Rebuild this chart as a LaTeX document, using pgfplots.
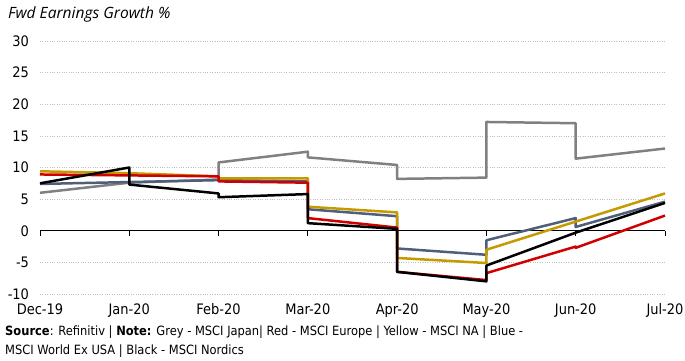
\documentclass[border=0pt]{standalone}
\usepackage{pgfplots}
\pgfplotsset{compat=1.18}
\usepackage{fontspec}
\setmainfont{DejaVu Sans Condensed}
\newfontfamily\titlefont{Open Sans}

\definecolor{cGrey}{HTML}{808080}
\definecolor{cRed}{HTML}{D00000}
\definecolor{cYellow}{HTML}{C49A00}
\definecolor{cBlue}{HTML}{4F5E7B}
\definecolor{cGrid}{HTML}{BFBFBF}

\begin{document}
\fontsize{14.5}{17}\selectfont
\begin{tikzpicture}[x=1bp,y=1bp]
\path[use as bounding box] (-40bp,-67bp) rectangle (645bp,294bp);
\begin{axis}[
  at={(0,0)}, anchor=south west,
  scale only axis,
  width=625bp, height=253bp,
  xmin=0, xmax=7, ymin=-10, ymax=30,
  axis line style={draw=none},
  xtick={0,...,7},
  xticklabels={Dec-19,Jan-20,Feb-20,Mar-20,Apr-20,May-20,Jun-20,Jul-20},
  ytick={-10,-5,0,5,10,15,20,25,30},
  extra y ticks={-10,-5,5,10,15,20,25,30},
  extra y tick labels={},
  extra y tick style={grid=major, major grid style={cGrid, dotted, line width=0.7pt}},
  major tick length=0pt,
  tick label style={font=\fontsize{14.5}{17}\selectfont},
  /pgf/number format/assume math mode=true,
  xticklabel style={yshift=-5bp},
  yticklabel style={xshift=-6bp},
  every axis plot/.append style={line width=2.5pt, line join=round},
  clip=false,
]
% zero line and month ticks
\draw[black, line width=0.8pt] (axis cs:0,0) -- (axis cs:7,0);
\pgfplotsinvokeforeach{0,...,7}{
  \draw[black, line width=0.8pt] (axis cs:#1,0) -- ([yshift=-5bp]axis cs:#1,0);
}

% MSCI Japan
\addplot[cGrey] coordinates {
  (0,6.0) (1,7.6) (2,8.1) (2,10.8) (3,12.5) (3,11.6) (4,10.4) (4,8.2)
  (5,8.4) (5,17.2) (6,17.0) (6,11.4) (7,13.0)
};
% MSCI World Ex USA
\addplot[cBlue] coordinates {
  (0,7.4) (1,7.7) (2,8.0) (3,7.8) (3,3.4) (4,2.3) (4,-2.8) (5,-3.8)
  (5,-1.5) (6,2.0) (6,0.6) (7,4.6)
};
% MSCI NA
\addplot[cYellow] coordinates {
  (0,9.4) (1,9.1) (2,8.6) (2,8.3) (3,8.3) (3,3.8) (4,2.9) (4,-4.3)
  (5,-5.1) (5,-3.0) (7,5.9)
};
% MSCI Europe
\addplot[cRed] coordinates {
  (0,8.9) (2,8.6) (2,7.8) (3,7.6) (3,2.0) (4,0.5) (4,-6.5) (5,-7.8)
  (5,-6.7) (6,-2.5) (6,-2.7) (7,2.4)
};
% MSCI Nordics
\addplot[black] coordinates {
  (0,7.5) (1,10.0) (1,7.3) (2,5.9) (2,5.3) (3,5.8) (3,1.2) (4,0.3)
  (4,-6.5) (5,-8.0) (5,-5.5) (6,-0.3) (7,4.4)
};
\end{axis}
\node[anchor=west, inner sep=0pt] at (-32bp,280bp)
  {\titlefont\itshape\fontsize{15.6}{18}\selectfont Fwd Earnings Growth \%};
\node[anchor=north west, inner sep=0pt, align=left,
      font=\fontsize{12.8}{19}\selectfont] at (-35bp,-32bp)
  {\textbf{Source}: Refinitiv | \textbf{Note:} Grey - MSCI Japan| Red - MSCI Europe | Yellow - MSCI NA | Blue -\\
   MSCI World Ex USA | Black - MSCI Nordics};
\end{tikzpicture}
\end{document}
